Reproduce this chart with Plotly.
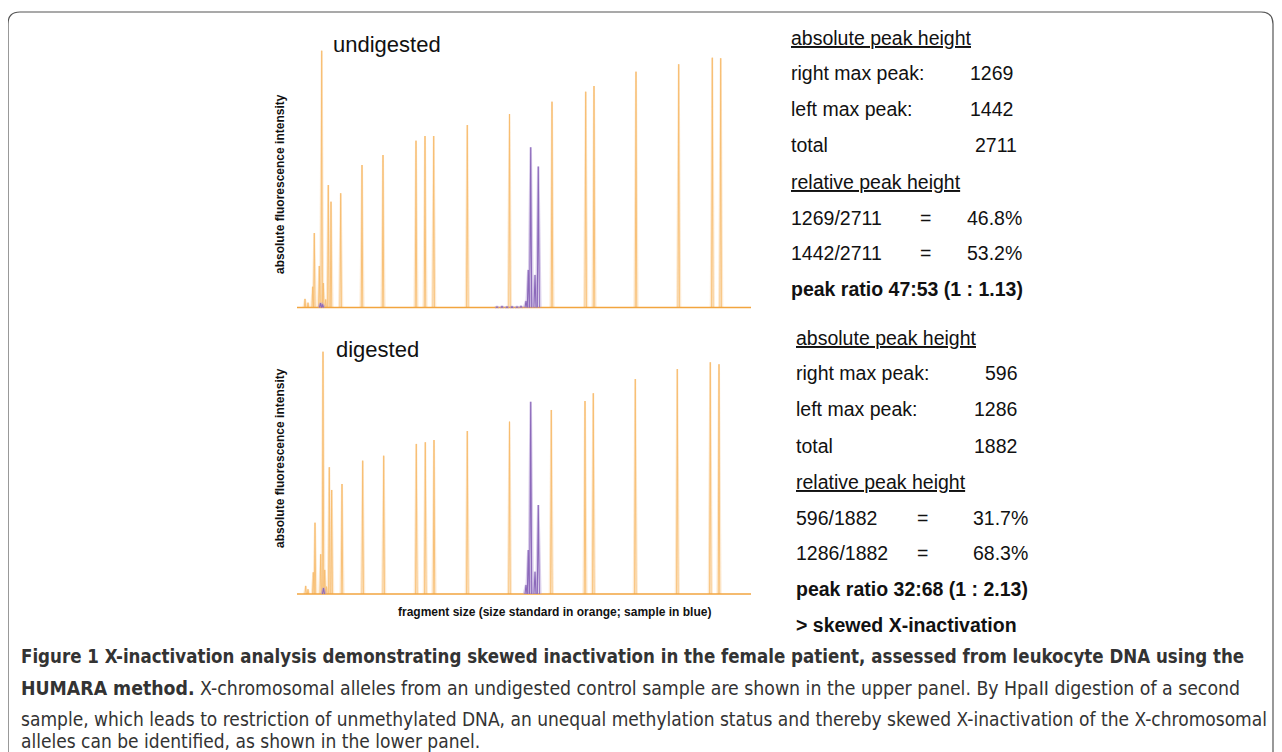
import plotly.graph_objects as go

W, H = 1282, 752
OFF = 8  # the page body margin shifts the figure by 8px; compensate

# ---------------- data ----------------
# scan position (arbitrary units along fragment-size axis) and heights (RFU)
scan_range = [0, 454]

up_orange_pos = [8.0, 11.0, 15.7, 17.3, 22.3, 24.7, 26.3, 28.7, 31.3, 34.0, 43.7, 65.0, 86.0,
                 119.0, 128.0, 136.7, 170.3, 212.5, 255.0, 288.7, 297.0, 339.0, 381.7, 415.3, 423.7]
up_orange_h = [77, 43, 187, 670, 374, 2311, 220, 72, 1102, 952, 1028, 1282, 1372,
               1501, 1543, 1543, 1642, 1741, 1852, 1942, 1993, 2122, 2189, 2248, 2243]
up_blue_pos = [23.5, 25.5, 200.0, 205.0, 210.0, 215.0, 220.0, 224.0, 229.0, 231.3, 233.7, 238.0, 241.3]
up_blue_h = [40, 28, 6, 8, 5, 7, 6, 10, 58, 338, 1442, 293, 1269]

lo_orange_pos = [8.7, 11.0, 16.3, 18.0, 23.7, 26.0, 27.7, 29.5, 32.3, 34.7, 45.0, 65.7, 86.7,
                 119.3, 128.3, 137.0, 170.3, 212.5, 254.3, 288.0, 296.3, 338.3, 380.3, 413.3, 422.0]
lo_orange_h = [54, 31, 145, 477, 266, 1621, 161, 49, 848, 696, 736, 892, 925,
               1004, 1015, 1030, 1090, 1153, 1231, 1291, 1343, 1438, 1505, 1550, 1537]
lo_blue_pos = [26.5, 229.0, 231.3, 233.7, 238.0, 241.3]
lo_blue_h = [40, 60, 294, 1286, 149, 596]

panel_titles = ["undigested", "digested"]
y_title = "absolute fluorescence intensity"
x_title = "fragment size (size standard in orange; sample in blue)"

up_right_peak, up_left_peak = 1269, 1442
lo_right_peak, lo_left_peak = 596, 1286
up_ratio_text = "peak ratio 47:53 (1 : 1.13)"
lo_ratio_text = "peak ratio 32:68 (1 : 2.13)"
conclusion = "> skewed X-inactivation"

caption_lines = [
    "<b>Figure 1 X-inactivation analysis demonstrating skewed inactivation in the female patient, assessed from leukocyte DNA using the</b>",
    "<b>HUMARA method.</b> X-chromosomal alleles from an undigested control sample are shown in the upper panel. By HpaII digestion of a second",
    "sample, which leads to restriction of unmethylated DNA, an unequal methylation status and thereby skewed X-inactivation of the X-chromosomal",
    "alleles can be identified, as shown in the lower panel.",
]

# ---------------- helpers ----------------
def peaks(pos, hts, hw):
    xs, ys = [], []
    for p, h in zip(pos, hts):
        xs += [p - hw, p, p + hw, None]
        ys += [0, h, 0, None]
    return xs, ys

def px(x):
    return (x - OFF) / W

def py(y):
    return 1 - (y - OFF) / H

ORANGE = "#F7BC6E"
ORANGE_HALO = "rgba(250,210,160,0.45)"
PURPLE = "#8C69BA"
PURPLE_HALO = "rgba(175,150,212,0.45)"
BASE = "#F2A53F"

fig = go.Figure()

def add_panel(opos, oh, bpos, bh, xa, ya):
    x, y = peaks(opos, oh, 1.6)
    fig.add_trace(go.Scatter(x=x, y=y, mode="lines", line=dict(color=ORANGE_HALO, width=2),
                             xaxis=xa, yaxis=ya, hoverinfo="skip", showlegend=False))
    x, y = peaks(opos, oh, 0.7)
    fig.add_trace(go.Scatter(x=x, y=y, mode="lines", line=dict(color=ORANGE, width=0.9),
                             xaxis=xa, yaxis=ya, hoverinfo="skip", showlegend=False))
    fig.add_trace(go.Scatter(x=scan_range, y=[0, 0], mode="lines", line=dict(color=BASE, width=1.6),
                             xaxis=xa, yaxis=ya, hoverinfo="skip", showlegend=False))
    x, y = peaks(bpos, bh, 2.0)
    fig.add_trace(go.Scatter(x=x, y=y, mode="lines", line=dict(color=PURPLE_HALO, width=2.5),
                             xaxis=xa, yaxis=ya, hoverinfo="skip", showlegend=False))
    x, y = peaks(bpos, bh, 1.0)
    fig.add_trace(go.Scatter(x=x, y=y, mode="lines", line=dict(color=PURPLE, width=1.1),
                             xaxis=xa, yaxis=ya, hoverinfo="skip", showlegend=False))

add_panel(up_orange_pos, up_orange_h, up_blue_pos, up_blue_h, "x", "y")
add_panel(lo_orange_pos, lo_orange_h, lo_blue_pos, lo_blue_h, "x2", "y2")

ax_common = dict(showgrid=False, zeroline=False, showline=False, showticklabels=False, ticks="")
xdom = [px(297), px(751)]
fig.update_layout(
    width=W, height=H, margin=dict(l=0, r=0, t=0, b=0),
    paper_bgcolor="white", plot_bgcolor="rgba(0,0,0,0)",
    xaxis=dict(domain=xdom, range=scan_range, anchor="y", **ax_common),
    yaxis=dict(domain=[py(312), py(40)], range=[-(312 - 307.5) * 9.0, (307.5 - 40) * 9.0], anchor="x", **ax_common),
    xaxis2=dict(domain=xdom, range=scan_range, anchor="y2", **ax_common),
    yaxis2=dict(domain=[py(598), py(330)], range=[-(598 - 594) * 6.69, (594 - 330) * 6.69], anchor="x2", **ax_common),
    font=dict(family="Liberation Sans, Arial, sans-serif", color="#111"),
)

ann = []
def text(x, y, s, size, bold=False, xanchor="left", color="#111", angle=0, family=None):
    d = dict(x=px(x), y=py(y), xref="paper", yref="paper", text=(f"<b>{s}</b>" if bold else s),
             showarrow=False, xanchor=xanchor, yanchor="middle", textangle=angle,
             font=dict(size=size, color=color), borderpad=0, borderwidth=0)
    if family:
        d["font"]["family"] = family
    ann.append(d)

# panel titles
text(333, 45, panel_titles[0], 22)
text(336, 349, panel_titles[1], 22)
# y titles
text(280, 184, y_title, 12, bold=True, xanchor="center", angle=-90)
text(280, 458, y_title, 12, bold=True, xanchor="center", angle=-90)
# x title
text(398, 612, x_title, 12, bold=True)

FS = 19.5
def block(x0, ys, right, left, ratio, numx, eqx, pctx):
    total = right + left
    text(x0, ys[0], "<u>absolute peak height</u>", FS)
    text(x0, ys[1], "right max peak:", FS)
    text(numx[0], ys[1], f"{right}", FS)
    text(x0, ys[2], "left max peak:", FS)
    text(numx[1], ys[2], f"{left}", FS)
    text(x0, ys[3], "total", FS)
    text(numx[2], ys[3], f"{total}", FS)
    text(x0, ys[4], "<u>relative peak height</u>", FS)
    text(x0, ys[5], f"{right}/{total}", FS)
    text(eqx, ys[5], "=", FS)
    text(pctx, ys[5], f"{100 * right / total:.1f}%", FS)
    text(x0, ys[6], f"{left}/{total}", FS)
    text(eqx, ys[6], "=", FS)
    text(pctx, ys[6], f"{100 * left / total:.1f}%", FS)
    text(x0, ys[7], ratio, FS, bold=True)

block(791, [38, 73, 109, 145, 182, 218, 253, 289], up_right_peak, up_left_peak, up_ratio_text,
      [970, 970, 975], 920, 967)
block(796, [338, 373, 409, 446, 482, 518, 553, 589], lo_right_peak, lo_left_peak, lo_ratio_text,
      [985, 974, 974], 917, 973)
text(796, 625, conclusion, FS, bold=True)

# caption
cap_font = "Liberation Sans Narrow, DejaVu Sans Condensed, Roboto Condensed, Arial Narrow, sans-serif"
cap_sizes = [18.55, 19.3, 19, 19]
for line, yy, sz in zip(caption_lines, [656, 688, 719, 741], cap_sizes):
    ann.append(dict(x=px(20), y=py(yy), xref="paper", yref="paper", text=line, showarrow=False,
                    xanchor="left", yanchor="middle", borderpad=0,
                    font=dict(size=sz, color="#333", family=cap_font)))

fig.update_layout(annotations=ann)

# rounded frame
r = 12
pts = f"M {px(8)},{py(770)} L {px(8)},{py(12 + r)} Q {px(8)},{py(12)} {px(8 + r)},{py(12)} " \
      f"L {px(1273 - r)},{py(12)} Q {px(1273)},{py(12)} {px(1273)},{py(12 + r)} L {px(1273)},{py(770)}"
fig.add_shape(type="path", path=pts, xref="paper", yref="paper", line=dict(color="#555", width=1.2))

fig.write_html("out.html")
